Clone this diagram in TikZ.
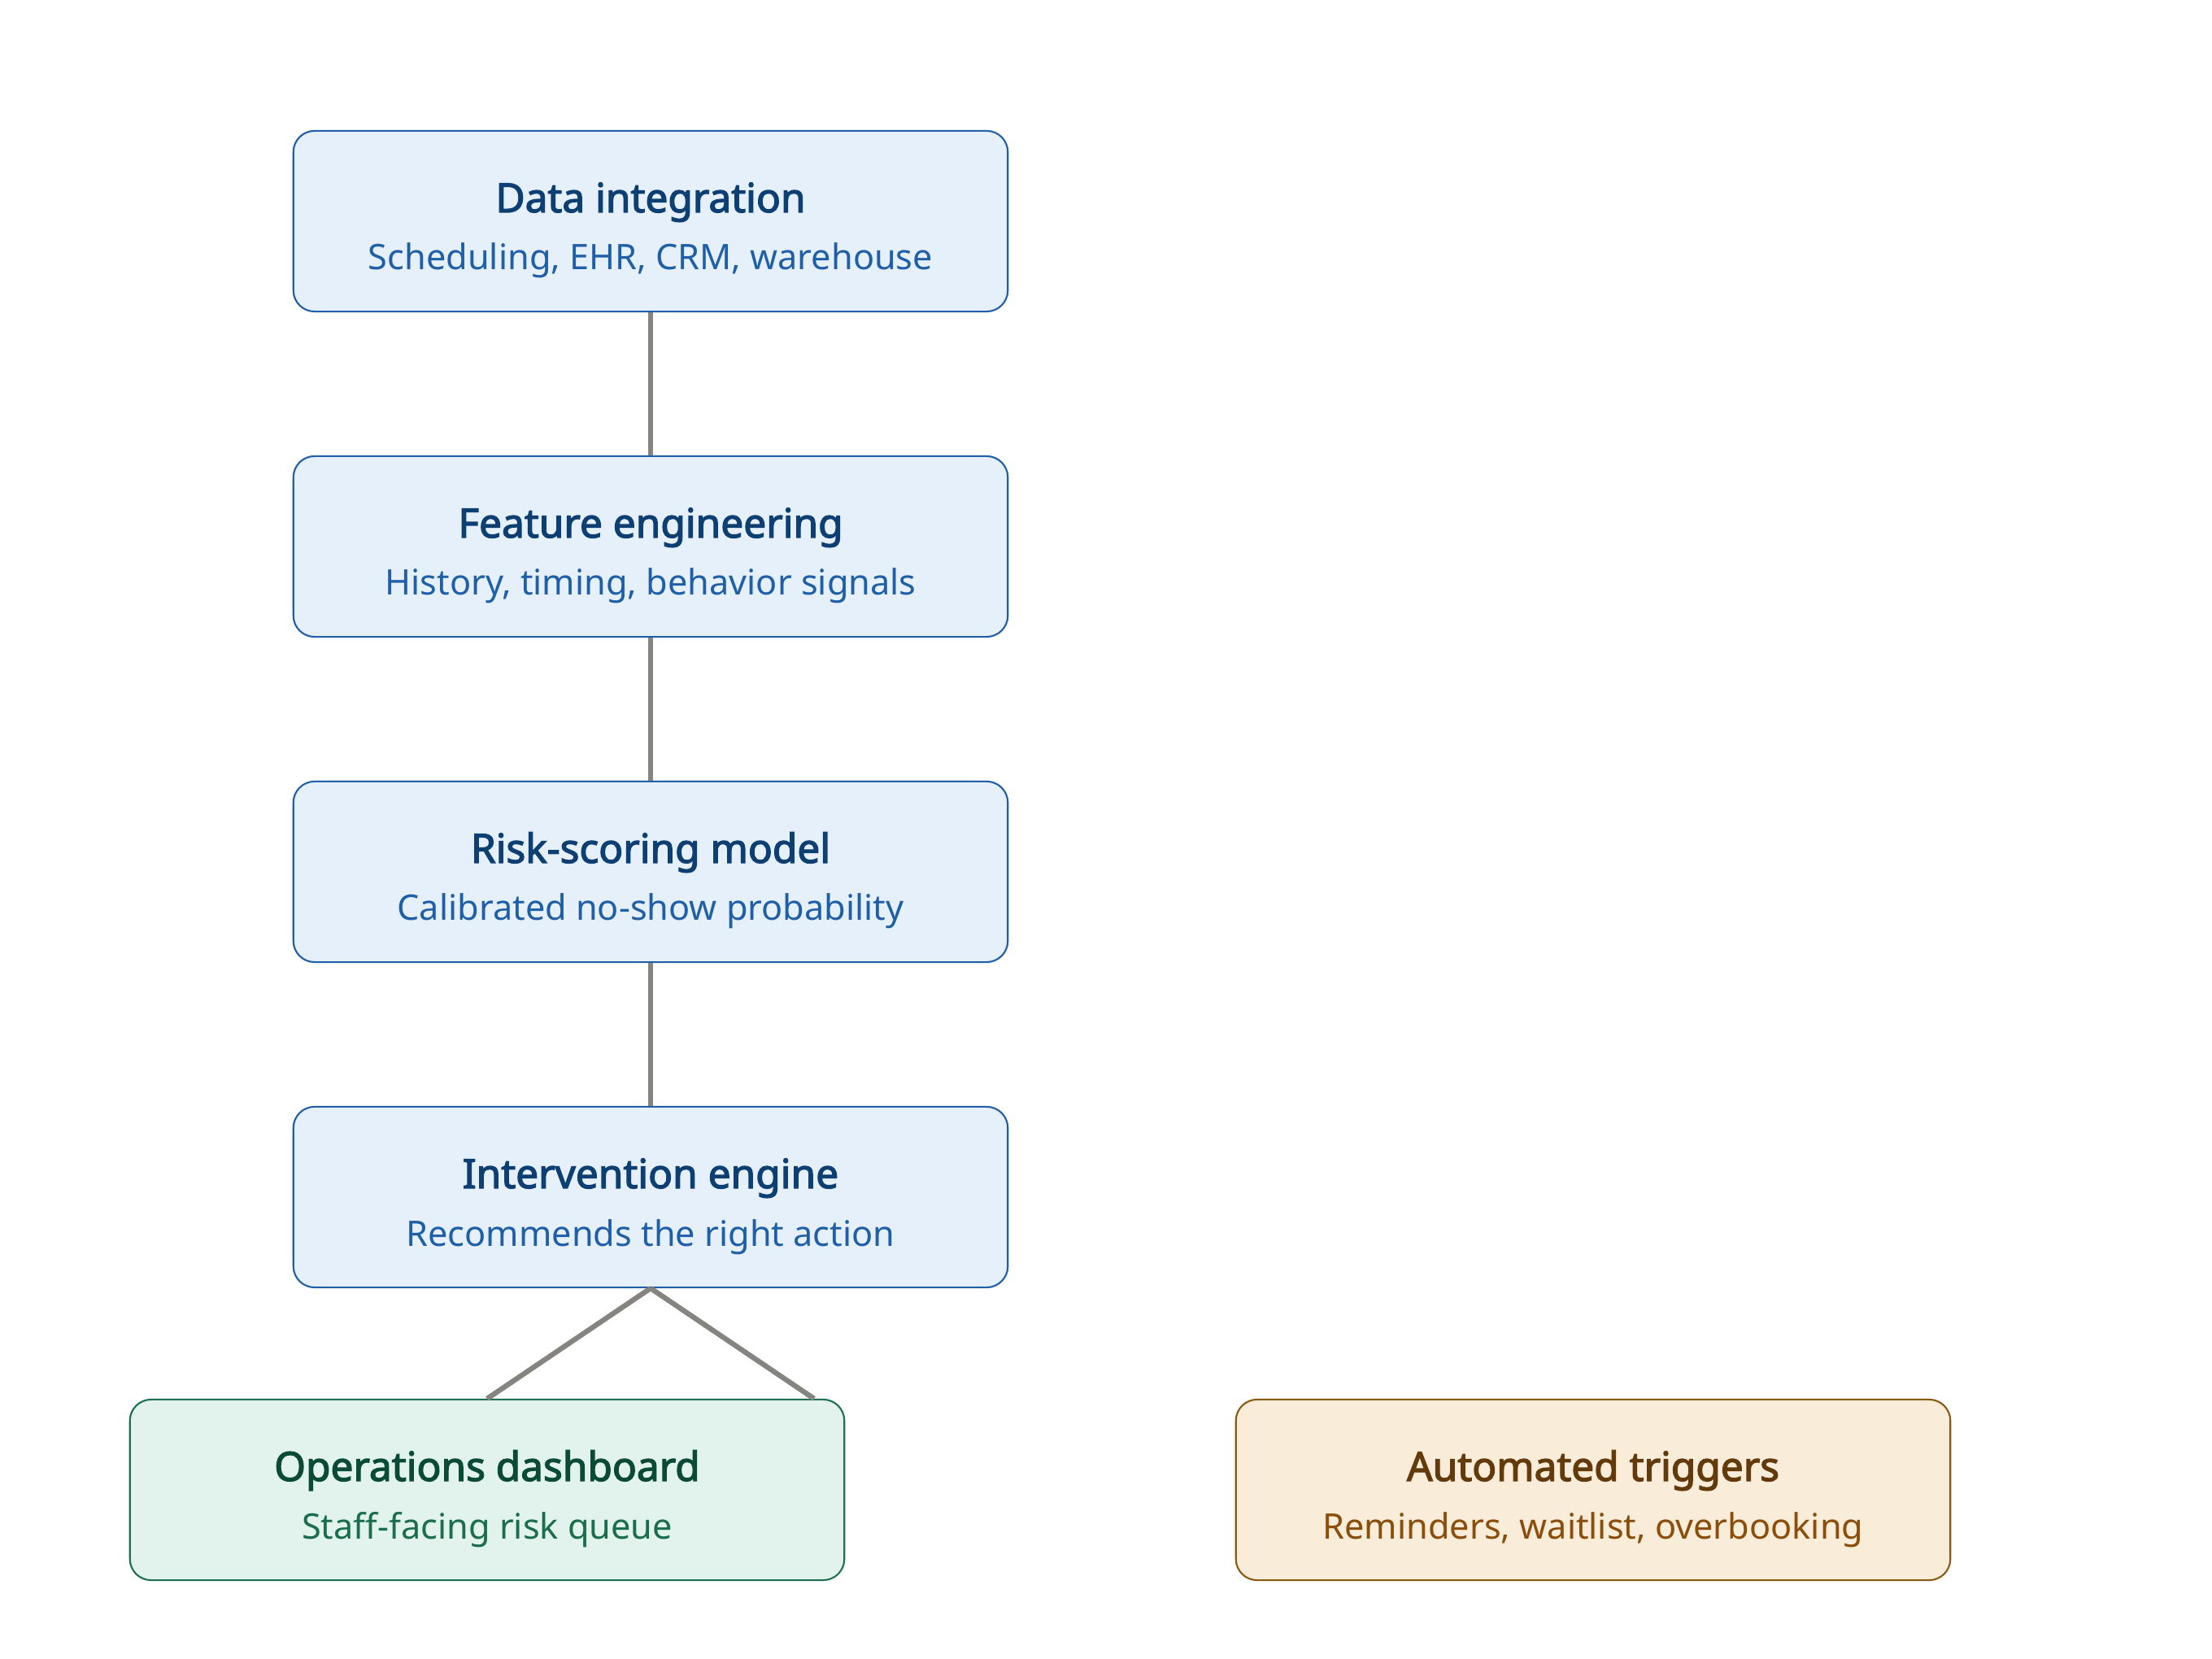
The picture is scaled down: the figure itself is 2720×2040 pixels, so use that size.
\documentclass[tikz,border=0pt]{standalone}
\usepackage{fontspec}
\setmainfont{Noto Sans}
\newfontfamily\titlefont{Noto Sans}[FakeBold=2.6]
\usetikzlibrary{calc}
\definecolor{bfill}{HTML}{E6F0FA}
\definecolor{bline}{HTML}{1F5FA8}
\definecolor{btitle}{HTML}{0D3F73}
\definecolor{bsub}{HTML}{1F5FA8}
\definecolor{gfill}{HTML}{E1F3EC}
\definecolor{gline}{HTML}{1E7052}
\definecolor{gtitle}{HTML}{0B4A36}
\definecolor{gsub}{HTML}{1A6E4E}
\definecolor{ofill}{HTML}{F9ECD9}
\definecolor{oline}{HTML}{8A5A14}
\definecolor{otitle}{HTML}{633A0B}
\definecolor{osub}{HTML}{8A4D0A}
\definecolor{conn}{HTML}{868480}
\begin{document}
\begin{tikzpicture}[x=0.01cm,y=-0.01cm,
  box/.style={draw, rounded corners=0.26cm, minimum width=8.78cm, minimum height=2.22cm, line width=0.6pt, inner sep=0pt},
  bluebox/.style={box, fill=bfill, draw=bline},
  greenbox/.style={box, fill=gfill, draw=gline},
  orangebox/.style={box, fill=ofill, draw=oline},
  ttl/.style={font=\titlefont\fontsize{14.1}{16}\selectfont, inner sep=0pt, anchor=base},
  sub/.style={font=\fontsize{12.3}{14}\selectfont, inner sep=0pt, anchor=base},
  link/.style={draw=conn, line width=1.8pt}]
\useasboundingbox (0,0) rectangle (2720,2040);
\fill[white] (0,0) rectangle (2720,2040);

\node[bluebox] (d) at (800,272) {};
\node[ttl, text=btitle] (dt) at ($(d)+(0,-11)$) {Data integration};
\node[sub, text=bsub] (ds) at ($(d)+(0,60)$) {Scheduling, EHR, CRM, warehouse};

\node[bluebox] (f) at (800,672) {};
\node[ttl, text=btitle] (ft) at ($(f)+(0,-11)$) {Feature engineering};
\node[sub, text=bsub] (fs) at ($(f)+(0,60)$) {History, timing, behavior signals};

\node[bluebox] (r) at (800,1072) {};
\node[ttl, text=btitle] (rt) at ($(r)+(0,-11)$) {Risk-scoring model};
\node[sub, text=bsub] (rs) at ($(r)+(0,60)$) {Calibrated no-show probability};

\node[bluebox] (i) at (800,1472) {};
\node[ttl, text=btitle] (it) at ($(i)+(0,-11)$) {Intervention engine};
\node[sub, text=bsub] (is) at ($(i)+(0,60)$) {Recommends the right action};

\node[greenbox] (o) at (599,1832) {};
\node[ttl, text=gtitle] (ot) at ($(o)+(0,-11)$) {Operations dashboard};
\node[sub, text=gsub] (os) at ($(o)+(0,60)$) {Staff-facing risk queue};

\node[orangebox] (a) at (1959,1832) {};
\node[ttl, text=otitle] (at) at ($(a)+(0,-11)$) {Automated triggers};
\node[sub, text=osub] (as) at ($(a)+(0,60)$) {Reminders, waitlist, overbooking};

\coordinate (oR) at ($(o.north)+(402,0)$);

\draw[link] (d.south) -- (f.north);
\draw[link] (f.south) -- (r.north);
\draw[link] (r.south) -- (i.north);
\draw[link] (i.south) -- (o.north);
\draw[link] (i.south) -- (oR);
\end{tikzpicture}
\end{document}
